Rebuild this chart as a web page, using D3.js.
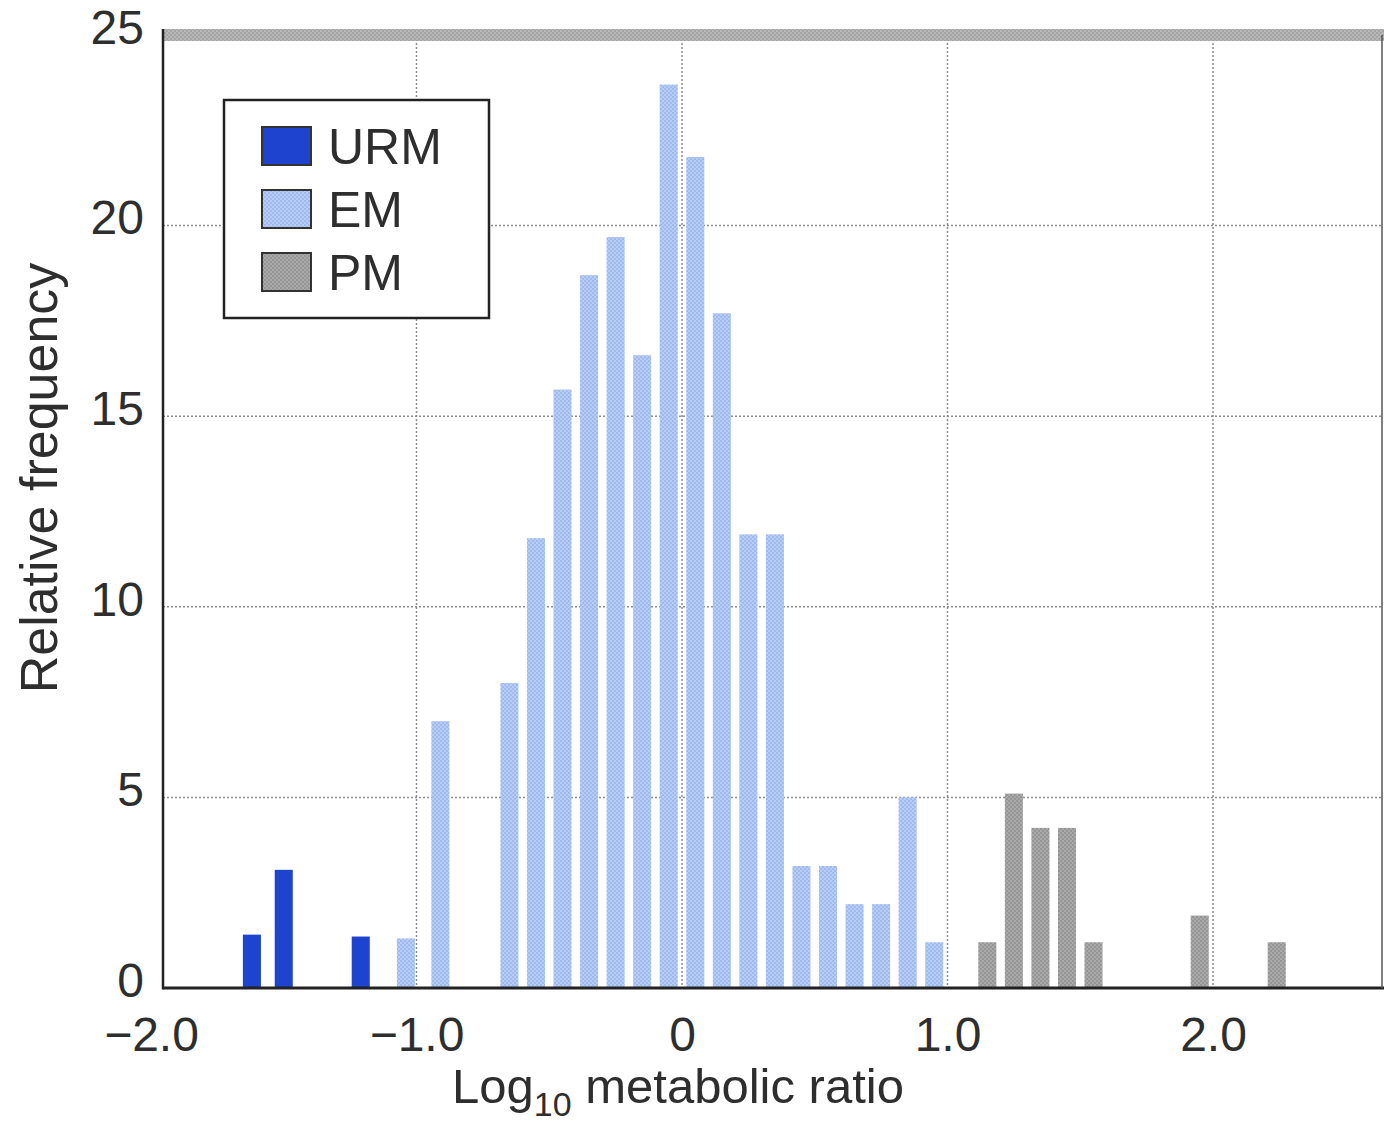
<!DOCTYPE html>
<html>
<head>
<meta charset="utf-8">
<script src="https://cdn.jsdelivr.net/npm/d3@7"></script>
<style>
  body { margin: 0; background: #fff; }
  text { font-family: "Liberation Sans", Arial, sans-serif; fill: #2e2e2e; }
</style>
</head>
<body>
<div id="chart"></div>
<script>
// histogram data
const urmX = [-1.62, -1.50, -1.21];
const urmY = [1.4, 3.1, 1.35];
const emX = [-1.04, -0.91, -0.65, -0.55, -0.45, -0.35, -0.25, -0.15, -0.05, 0.05, 0.15, 0.25, 0.35, 0.45, 0.55, 0.65, 0.75, 0.85, 0.95];
const emY = [1.3, 7.0, 8.0, 11.8, 15.7, 18.7, 19.7, 16.6, 23.7, 21.8, 17.7, 11.9, 11.9, 3.2, 3.2, 2.2, 2.2, 5.0, 1.2];
const pmX = [1.15, 1.25, 1.35, 1.45, 1.55, 1.95, 2.24];
const pmY = [1.2, 5.1, 4.2, 4.2, 1.2, 1.9, 1.2];
const xTicks = [-2, -1, 0, 1, 2];
const yTicks = [0, 5, 10, 15, 20, 25];
const legendNames = ['URM', 'EM', 'PM'];

const W = 1384, H = 1141;
let x = d3.scaleLinear().domain([-2, 2]).range([151, 1213]);
let y = d3.scaleLinear().domain([0, 25]).range([988, 35]);
const plotLeft = 163, plotRight = 1382;
const binW = 0.068;

let svg = d3.select('#chart').append('svg').attr('width', W).attr('height', H);
let defs = svg.append('defs');

// dotted screen textures like the printed figure
function screen(id, base, dot) {
  const p = defs.append('pattern').attr('id', id)
    .attr('width', 4).attr('height', 4).attr('patternUnits', 'userSpaceOnUse');
  p.append('rect').attr('width', 4).attr('height', 4).attr('fill', base);
  p.append('circle').attr('cx', 1).attr('cy', 1).attr('r', 0.8).attr('fill', dot);
  p.append('circle').attr('cx', 3).attr('cy', 3).attr('r', 0.8).attr('fill', dot);
}
screen('em-fill', '#b7cdf6', '#86a3e4');
screen('pm-fill', '#a9a9a9', '#7d7d7d');
screen('top-fill', '#b8b8b8', '#8a8a8a');

const fills = { URM: '#1d43cf', EM: 'url(#em-fill)', PM: 'url(#pm-fill)' };

// gridlines
let grid = svg.append('g');
grid.selectAll('.vg').data(xTicks.filter(d => x(d) > plotLeft))
  .enter().append('line')
  .attr('x1', d => x(d)).attr('x2', d => x(d))
  .attr('y1', y(25)).attr('y2', y(0))
  .attr('stroke', '#8c8c8c').attr('stroke-width', 1.5).attr('stroke-dasharray', '2,2');
grid.selectAll('.hg').data(yTicks.filter(d => d > 0 && d < 25))
  .enter().append('line')
  .attr('x1', plotLeft).attr('x2', plotRight)
  .attr('y1', d => y(d)).attr('y2', d => y(d))
  .attr('stroke', '#8c8c8c').attr('stroke-width', 1.5).attr('stroke-dasharray', '2,2');

// bars
function drawBars(xs, ys, fill) {
  svg.append('g').selectAll('rect')
    .data(xs.map((v, i) => ({ x: v, y: ys[i] })))
    .enter().append('rect')
    .attr('x', d => x(d.x - binW / 2))
    .attr('width', x(binW) - x(0))
    .attr('y', d => y(d.y))
    .attr('height', d => y(0) - y(d.y))
    .attr('fill', fill);
}
drawBars(urmX, urmY, fills.URM);
drawBars(emX, emY, fills.EM);
drawBars(pmX, pmY, fills.PM);

// frame
svg.append('rect').attr('x', plotLeft).attr('y', y(25) - 6)
  .attr('width', plotRight - plotLeft + 4).attr('height', 12).attr('fill', 'url(#top-fill)');
svg.append('line').attr('x1', plotLeft).attr('x2', plotLeft)
  .attr('y1', y(25) - 6).attr('y2', y(0) + 1.5)
  .attr('stroke', '#222').attr('stroke-width', 2.5);
svg.append('line').attr('x1', plotLeft).attr('x2', W)
  .attr('y1', y(0)).attr('y2', y(0))
  .attr('stroke', '#222').attr('stroke-width', 3);
svg.append('line').attr('x1', plotRight).attr('x2', plotRight)
  .attr('y1', y(25)).attr('y2', y(0))
  .attr('stroke', '#555').attr('stroke-width', 1.5);

// axes
let xAxis = svg.append('g')
  .attr('transform', `translate(0, ${y(0)})`)
  .call(d3.axisBottom(x).tickValues(xTicks).tickSize(0).tickPadding(29)
    .tickFormat(d => d === 0 ? '0' : d3.format('.1f')(d)));
xAxis.select('.domain').remove();
xAxis.selectAll('text').style('font-size', '48px').attr('fill', '#2e2e2e');

let yAxis = svg.append('g')
  .attr('transform', `translate(${plotLeft}, -7)`)
  .call(d3.axisLeft(y).tickValues(yTicks).tickSize(0).tickPadding(19));
yAxis.select('.domain').remove();
yAxis.selectAll('text').style('font-size', '48px').attr('fill', '#2e2e2e');

// axis titles
let xt = svg.append('text')
  .attr('x', 678).attr('y', 1103)
  .attr('text-anchor', 'middle')
  .style('font-size', '49px');
xt.append('tspan').text('Log');
xt.append('tspan').attr('dy', 13).style('font-size', '34px').text('10');
xt.append('tspan').attr('dy', -13).text(' metabolic ratio');

svg.append('text')
  .attr('transform', 'translate(57, 478) rotate(-90)')
  .attr('text-anchor', 'middle')
  .style('font-size', '52px')
  .text('Relative frequency');

// legend
let legend = svg.append('g').attr('transform', 'translate(224, 100)');
legend.append('rect').attr('width', 265).attr('height', 218)
  .attr('fill', '#fff').attr('stroke', '#222').attr('stroke-width', 2.5);
let items = legend.selectAll('.item').data(legendNames)
  .enter().append('g')
  .attr('transform', (d, i) => `translate(38, ${27 + i * 63})`);
items.append('rect').attr('width', 49).attr('height', 38)
  .attr('fill', d => fills[d]).attr('stroke', '#333').attr('stroke-width', 2);
items.append('text').attr('x', 66).attr('y', 37)
  .style('font-size', '50px').text(d => d);
</script>
</body>
</html>
